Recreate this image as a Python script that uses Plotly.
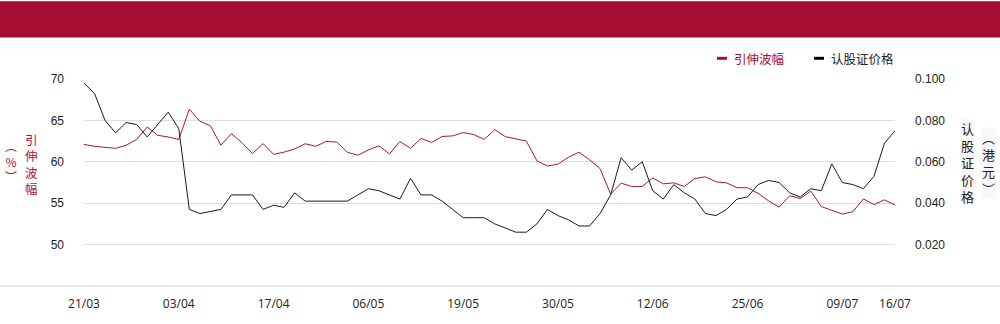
import plotly.graph_objects as go

# ---- data ----
dates = [
    "21/03", "24/03", "25/03", "26/03", "27/03", "28/03", "31/03",
    "01/04", "02/04", "03/04", "07/04", "08/04", "09/04", "10/04", "11/04",
    "14/04", "15/04", "16/04", "17/04", "22/04", "23/04", "24/04", "25/04",
    "28/04", "29/04", "30/04", "02/05", "06/05", "07/05", "08/05", "09/05",
    "12/05", "13/05", "14/05", "15/05", "16/05", "19/05", "20/05", "21/05",
    "22/05", "23/05", "26/05", "27/05", "28/05", "29/05", "30/05",
    "02/06", "03/06", "04/06", "05/06", "06/06", "09/06", "10/06", "11/06",
    "12/06", "13/06", "16/06", "17/06", "18/06", "19/06", "20/06", "23/06",
    "24/06", "25/06", "26/06", "27/06", "30/06", "02/07", "03/07", "04/07",
    "07/07", "08/07", "09/07", "10/07", "11/07", "14/07", "15/07", "16/07",
]

implied_vol = [
    62.1, 61.87, 61.75, 61.63, 62.0, 62.7, 64.2, 63.2, 63.0, 62.7,
    66.35, 64.9, 64.35, 62.0, 63.4, 62.3, 61.0, 62.2, 60.9, 61.17,
    61.55, 62.18, 61.87, 62.46, 62.38, 61.15, 60.8, 61.43, 61.94, 60.95,
    62.46, 61.63, 62.82, 62.34, 63.06, 63.13, 63.53, 63.29, 62.7, 63.89,
    63.04, 62.74, 62.5, 60.12, 59.49, 59.72, 60.56, 61.15, 60.24, 59.17,
    56.11, 57.42, 57.02, 57.02, 58.06, 57.34, 57.46, 57.02, 57.98, 58.18,
    57.58, 57.46, 56.87, 56.87, 56.19, 55.28, 54.52, 55.91, 55.56, 56.47,
    54.6, 54.13, 53.69, 53.97, 55.52, 54.84, 55.4, 54.8,
]

warrant_price = [
    0.098, 0.093, 0.080, 0.074, 0.079, 0.078, 0.072, 0.078, 0.084, 0.076,
    0.037, 0.035, 0.036, 0.037, 0.044, 0.044, 0.044, 0.037, 0.039, 0.038,
    0.045, 0.041, 0.041, 0.041, 0.041, 0.041, 0.044, 0.047, 0.046, 0.044,
    0.042, 0.052, 0.044, 0.044, 0.041, 0.037, 0.033, 0.033, 0.033, 0.030,
    0.028, 0.026, 0.026, 0.030, 0.037, 0.034, 0.032, 0.029, 0.029, 0.035,
    0.044, 0.062, 0.056, 0.060, 0.046, 0.042, 0.049, 0.045, 0.042, 0.035,
    0.034, 0.037, 0.042, 0.043, 0.049, 0.051, 0.050, 0.045, 0.043, 0.047,
    0.046, 0.059, 0.050, 0.049, 0.047, 0.053, 0.069, 0.075,
]

x_tick_labels = ["21/03", "03/04", "17/04", "06/05", "19/05", "30/05",
                 "12/06", "25/06", "09/07", "16/07"]
left_ticks = [50, 55, 60, 65, 70]
right_ticks = [0.020, 0.040, 0.060, 0.080, 0.100]

series_names = ["引伸波幅", "认股证价格"]

# ---- styling ----
RED = "#B0123F"
HEADER = "#A50E32"
W, H = 1000, 324
L, R, T, B = 84, 105, 79, 35
PW, PH = W - L - R, H - T - B
CJK = "Noto Sans CJK SC"


def px(xp):
    return (xp - L) / PW


def py(yp):
    return (H - B - yp) / PH


fig = go.Figure()
fig.add_trace(go.Scatter(x=dates, y=implied_vol, mode="lines", name=series_names[0],
                         line=dict(color=RED, width=1), yaxis="y"))
fig.add_trace(go.Scatter(x=dates, y=warrant_price, mode="lines", name=series_names[1],
                         line=dict(color="#1a1a1a", width=1), yaxis="y2"))

fig.update_layout(
    width=W, height=H,
    margin=dict(l=L, r=R, t=T, b=B),
    paper_bgcolor="white", plot_bgcolor="white",
    showlegend=False,
    xaxis=dict(type="category", categoryorder="array", categoryarray=dates,
               range=[0, len(dates) - 1], tickvals=x_tick_labels, ticktext=x_tick_labels,
               showgrid=False, showline=False, zeroline=False, ticks="",
               tickfont=dict(family="Open Sans", size=12, color="#222"),
               ticklabelstandoff=9),
    yaxis=dict(range=[45, 70], tickvals=left_ticks, showgrid=True, gridcolor="#dedede",
               gridwidth=1, zeroline=False, showline=False, ticks="",
               tickfont=dict(family="Liberation Sans", size=12, color="#222"),
               ticklabelstandoff=19),
    yaxis2=dict(range=[0, 0.1], tickvals=right_ticks, tickformat=".3f", overlaying="y",
                side="right", showgrid=False, zeroline=False, showline=False, ticks="",
                tickfont=dict(family="Liberation Sans", size=12, color="#222"),
                ticklabelstandoff=19),
    shapes=[
        dict(type="rect", xref="paper", yref="paper", x0=px(0), x1=px(W), y0=py(37), y1=py(0),
             fillcolor=HEADER, line=dict(width=0), layer="above"),
        dict(type="line", xref="paper", yref="paper", x0=px(0), x1=px(W), y0=0, y1=0,
             line=dict(color="#cccccc", width=1)),
        dict(type="rect", xref="paper", yref="paper", x0=px(717), x1=px(727), y0=py(59.5), y1=py(56.5),
             fillcolor=HEADER, line=dict(width=0)),
        dict(type="rect", xref="paper", yref="paper", x0=px(814), x1=px(824), y0=py(59.5), y1=py(56.5),
             fillcolor="#000000", line=dict(width=0)),
    ],
    annotations=[
        dict(xref="paper", yref="paper", x=px(733), y=py(58), text=series_names[0],
             showarrow=False, xanchor="left", yanchor="middle", borderpad=0,
             font=dict(family=CJK, size=12.5, color=HEADER)),
        dict(xref="paper", yref="paper", x=px(830), y=py(58), text=series_names[1],
             showarrow=False, xanchor="left", yanchor="middle", borderpad=0,
             font=dict(family=CJK, size=12.5, color="#222")),
        dict(xref="paper", yref="paper", x=px(31), y=py(165), text="<br>".join("引伸波幅"),
             showarrow=False, xanchor="center", yanchor="middle", borderpad=0,
             font=dict(family=CJK, size=12.5, color=RED)),
        dict(xref="paper", yref="paper", x=px(11), y=py(162), text="︵<br>%<br>︶",
             showarrow=False, xanchor="center", yanchor="middle", borderpad=0,
             font=dict(family=CJK, size=12, color=RED)),
        dict(xref="paper", yref="paper", x=px(968), y=py(164), text="<br>".join("认股证价格"),
             showarrow=False, xanchor="center", yanchor="middle", bgcolor="#f8f8f8", borderpad=0,
             font=dict(family=CJK, size=13, color="#222")),
        dict(xref="paper", yref="paper", x=px(988), y=py(164), text="︵<br>港<br>元<br>︶",
             showarrow=False, xanchor="center", yanchor="middle", bgcolor="#f8f8f8", borderpad=0,
             font=dict(family=CJK, size=13, color="#222")),
    ],
)

fig.write_html("out.html")
